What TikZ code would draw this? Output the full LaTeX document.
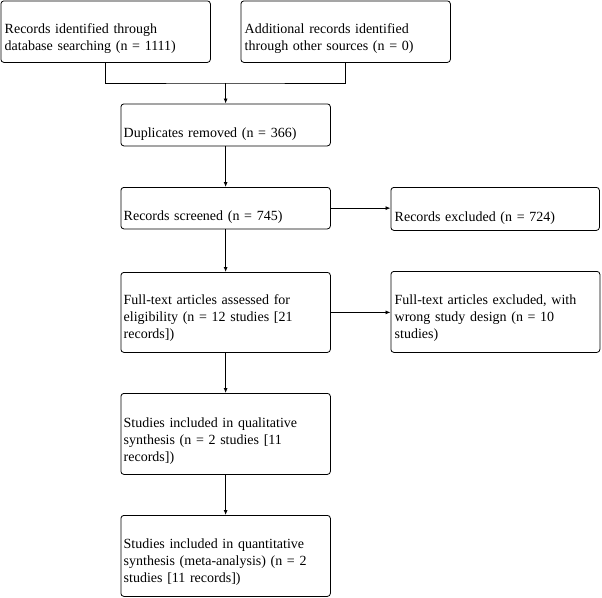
\documentclass[tikz,border=0pt]{standalone}
\usepackage{fontspec}
\setmainfont{Liberation Serif}
\usetikzlibrary{arrows.meta}
\begin{document}
\begin{tikzpicture}[x=1pt,y=-1pt,
  boxnode/.style={draw, rounded corners=3pt, line width=0.8pt, anchor=north west, inner sep=0pt, minimum width=209.5pt},
  txt/.style={anchor=base west, align=left, inner sep=0pt, text width=205pt, font=\fontsize{14}{17}\selectfont},
  conn/.style={line width=0.8pt},
  arr/.style={conn, -{Latex[length=5pt,width=4pt]}}]
\useasboundingbox (0,0) rectangle (602,597);
% boxes
\node[boxnode, minimum height=61.5pt] (b1) at (0.5,0.5) {};
\node[boxnode, minimum height=61.5pt] (b2) at (240.5,0.5) {};
\node[boxnode, minimum height=42pt] (b3) at (120.5,103.5) {};
\node[boxnode, minimum height=41.5pt] (b4) at (120.5,187) {};
\node[boxnode, minimum height=43pt, minimum width=208.5pt] (b5) at (390.5,187) {};
\node[boxnode, minimum height=80pt] (b6) at (120.5,272) {};
\node[boxnode, minimum height=81pt, minimum width=209pt] (b7) at (390.5,271) {};
\node[boxnode, minimum height=81pt] (b8) at (120.5,393) {};
\node[boxnode, minimum height=81pt] (b9) at (120.5,515) {};
% texts
\node[txt] (t1) at ([xshift=4pt,yshift=-33pt]b1.north west) {Records identified through\\database searching (n = 1111)};
\node[txt] (t2) at ([xshift=4pt,yshift=-33pt]b2.north west) {Additional records identified\\through other sources (n = 0)};
\node[txt] (t3) at ([xshift=3pt,yshift=-34pt]b3.north west) {Duplicates removed (n = 366)};
\node[txt] (t4) at ([xshift=3pt,yshift=-33pt]b4.north west) {Records screened (n = 745)};
\node[txt] (t5) at ([xshift=4pt,yshift=-34pt]b5.north west) {Records excluded (n = 724)};
\node[txt] (t6) at ([xshift=3pt,yshift=-32pt]b6.north west) {Full-text articles assessed for\\eligibility (n = 12 studies [21\\records])};
\node[txt] (t7) at ([xshift=4pt,yshift=-33pt]b7.north west) {Full-text articles excluded, with\\wrong study design (n = 10\\studies)};
\node[txt] (t8) at ([xshift=3pt,yshift=-34pt]b8.north west) {Studies included in qualitative\\synthesis (n = 2 studies [11\\records])};
\node[txt] (t9) at ([xshift=3pt,yshift=-33pt]b9.north west) {Studies included in quantitative\\synthesis (meta-analysis) (n = 2\\studies [11 records])};
% connectors
\coordinate (j) at ([yshift=20.5pt]b3.north);
\draw[conn] (b1.south) |- (j) -| (b2.south);
\draw[arr] (j) -- (b3.north);
\draw[arr] (b3.south) -- (b4.north);
\draw[arr] (b4.east) -- (b5.west |- b4.east);
\draw[arr] (b4.south) -- (b6.north);
\draw[arr] (b6.east) -- (b7.west |- b6.east);
\draw[arr] (b6.south) -- (b8.north);
\draw[arr] (b8.south) -- (b9.north);
\end{tikzpicture}
\end{document}
